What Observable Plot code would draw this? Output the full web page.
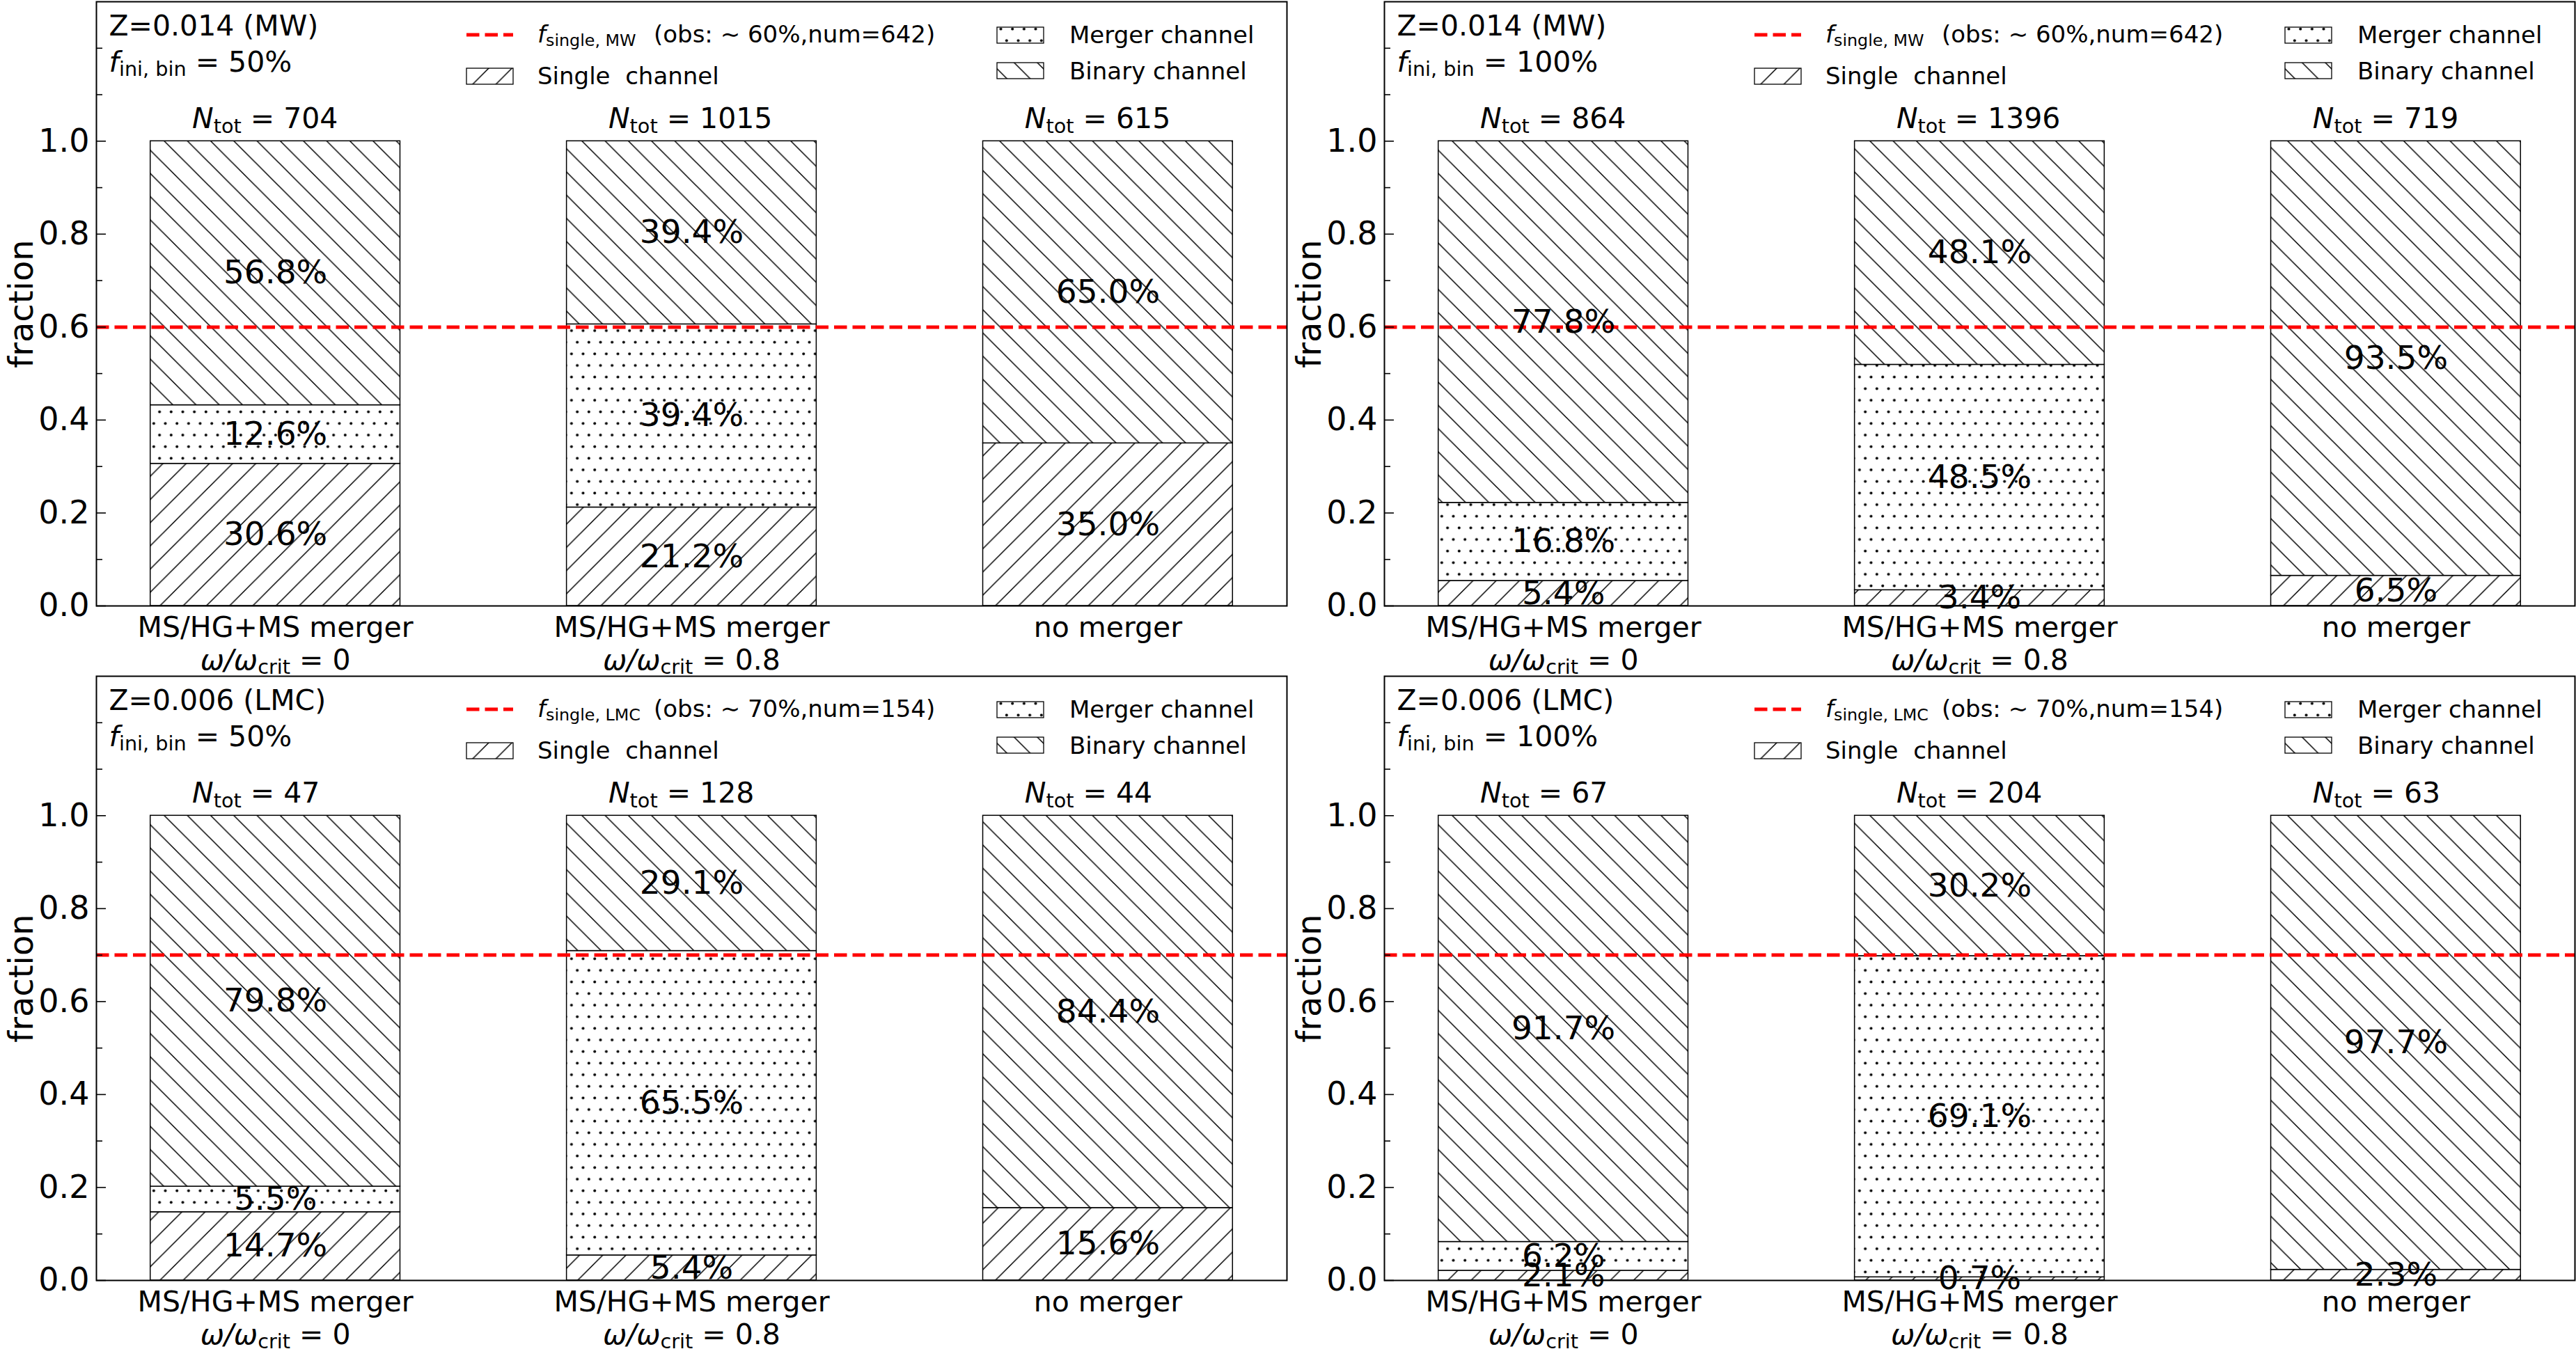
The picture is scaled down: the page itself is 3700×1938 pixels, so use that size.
<!DOCTYPE html>
<html><head><meta charset="utf-8">
<script src="https://cdn.jsdelivr.net/npm/d3@7"></script>
<script src="https://cdn.jsdelivr.net/npm/@observablehq/plot@0.6"></script>
<style>
html,body{margin:0;padding:0;background:#fff;}
#grid{display:grid;grid-template-columns:1850px 1850px;grid-template-rows:969px 969px;width:3700px;height:1938px;}
svg text{white-space:pre;}
</style></head><body>
<svg id="defs" width="0" height="0" style="position:absolute;left:0;top:0">
<defs>
<pattern id="hatch-single" patternUnits="userSpaceOnUse" width="33.333" height="33.333">
<rect width="33.333" height="33.333" fill="white"/>
<path d="M0,33.333 L33.333,0 M-2,2 L2,-2 M31.333,35.333 L35.333,31.333" stroke="black" stroke-width="1.5" fill="none"/>
</pattern>
<pattern id="hatch-binary" patternUnits="userSpaceOnUse" width="33.333" height="33.333">
<rect width="33.333" height="33.333" fill="white"/>
<path d="M0,0 L33.333,33.333 M-2,31.333 L2,35.333 M31.333,-2 L35.333,2" stroke="black" stroke-width="1.5" fill="none"/>
</pattern>
<pattern id="hatch-merger" patternUnits="userSpaceOnUse" width="16.667" height="33.333">
<rect width="16.667" height="33.333" fill="white"/>
<circle cx="4.17" cy="8.33" r="2" fill="black"/>
<circle cx="12.5" cy="25" r="2" fill="black"/>
</pattern>
</defs>
</svg>
<div id="grid"></div>
<script>
// ---------------- data ----------------
const categories = ["MS/HG+MS merger", "MS/HG+MS merger", "no merger"];
const rotationLabels = ["*ω/ω*_{crit} = 0", "*ω/ω*_{crit} = 0.8", ""];
const panelZ = ["Z=0.014 (MW)", "Z=0.014 (MW)", "Z=0.006 (LMC)", "Z=0.006 (LMC)"];
const panelFbin = ["50%", "100%", "50%", "100%"];
const obsGalaxy = ["MW", "MW", "LMC", "LMC"];
const obsFraction = [0.6, 0.6, 0.7, 0.7];
const obsPercent = ["60%", "60%", "70%", "70%"];
const obsNum = [642, 642, 154, 154];
const nTot = [[704, 1015, 615], [864, 1396, 719], [47, 128, 44], [67, 204, 63]];
const singlePct = [[30.6, 21.2, 35.0], [5.4, 3.4, 6.5], [14.7, 5.4, 15.6], [2.1, 0.7, 2.3]];
const mergerPct = [[12.6, 39.4, 0], [16.8, 48.5, 0], [5.5, 65.5, 0], [6.2, 69.1, 0]];
const binaryPct = [[56.8, 39.4, 65.0], [77.8, 48.1, 93.5], [79.8, 29.1, 84.4], [91.7, 30.2, 97.7]];
const majorTicks = [0, 0.2, 0.4, 0.6, 0.8, 1.0];
const minorTicks = [0.1, 0.3, 0.5, 0.7, 0.9, 1.1, 1.2];
const channelNames = ["Single  channel", "Merger channel", "Binary channel"];

// ---------------- helpers ----------------
const NS = "http://www.w3.org/2000/svg";
const FONT = "'DejaVu Sans', sans-serif";
const halfWidth = 0.3;

function richify(svg) {
  svg.querySelectorAll("text").forEach(t => {
    if (t.querySelector("tspan")) return;
    const s = t.textContent;
    if (!/\*|_\{/.test(s)) return;
    const fs = parseFloat(getComputedStyle(t).fontSize);
    const shift = fs * 0.16;
    t.textContent = "";
    const re = /\*([^*]+)\*|_\{([^}]*)\}|([^*_]+)/g;
    let m, shifted = false;
    while ((m = re.exec(s))) {
      const ts = document.createElementNS(NS, "tspan");
      if (m[2] !== undefined) {
        ts.textContent = m[2];
        ts.setAttribute("font-size", fs * 0.7);
        ts.setAttribute("dy", shift);
        shifted = true;
      } else {
        ts.textContent = m[1] !== undefined ? m[1] : m[3];
        if (m[1] !== undefined) ts.setAttribute("font-style", "italic");
        if (shifted) { ts.setAttribute("dy", -shift); shifted = false; }
      }
      t.appendChild(ts);
    }
  });
}

function addLegend(svg, p) {
  const g = d3.select(svg).append("g").attr("font-family", FONT).attr("font-size", 34)
    .attr("fill", "black").attr("text-anchor", "start");
  g.append("line").attr("x1", 670).attr("x2", 737).attr("y1", 50).attr("y2", 50)
    .attr("stroke", "#ff0000").attr("stroke-width", 5).attr("stroke-dasharray", "18.5,8");
  g.append("text").attr("x", 772).attr("y", 61).text(`*f*_{single, ${obsGalaxy[p]}}`);
  g.append("text").attr("x", 939).attr("y", 61).text(`(obs: ∼ ${obsPercent[p]},num=${obsNum[p]})`);
  const sw = [
    {x: 670, y: 98, fill: "url(#hatch-single)", tx: 772, ty: 121, label: channelNames[0]},
    {x: 1432, y: 39, fill: "url(#hatch-merger)", tx: 1536, ty: 62, label: channelNames[1]},
    {x: 1432, y: 90, fill: "url(#hatch-binary)", tx: 1536, ty: 114, label: channelNames[2]}
  ];
  sw.forEach(s => {
    g.append("rect").attr("x", s.x).attr("y", s.y).attr("width", 67).attr("height", 23)
      .attr("fill", s.fill).attr("stroke", "black").attr("stroke-width", 1.3);
    g.append("text").attr("x", s.tx).attr("y", s.ty).text(s.label);
  });
}

function panel(p) {
  const segs = [];
  categories.forEach((c, i) => {
    const s = singlePct[p][i] / 100, m = mergerPct[p][i] / 100, b = binaryPct[p][i] / 100;
    segs.push({i, ch: "single", y1: 0, y2: s, pct: singlePct[p][i]});
    segs.push({i, ch: "merger", y1: s, y2: s + m, pct: mergerPct[p][i]});
    segs.push({i, ch: "binary", y1: s + m, y2: s + m + b, pct: binaryPct[p][i]});
  });
  const rectOpts = (fill) => ({
    x1: d => d.i - halfWidth, x2: d => d.i + halfWidth, y1: "y1", y2: "y2",
    fill, stroke: "black", strokeWidth: 1.5
  });
  const labels = segs.filter(d => d.pct > 0);
  const axW = 1850 - 138 - 2;
  return Plot.plot({
    width: 1850, height: 969,
    marginTop: 2, marginRight: 2, marginBottom: 99, marginLeft: 138,
    x: {domain: [-0.43, 2.43], axis: null},
    y: {domain: [0, 1.3]},
    style: {fontFamily: FONT, background: "white", color: "black", overflow: "visible"},
    marks: [
      Plot.rect(segs.filter(d => d.ch === "single" && d.pct > 0), rectOpts("url(#hatch-single)")),
      Plot.rect(segs.filter(d => d.ch === "merger" && d.pct > 0), rectOpts("url(#hatch-merger)")),
      Plot.rect(segs.filter(d => d.ch === "binary" && d.pct > 0), rectOpts("url(#hatch-binary)")),
      Plot.ruleY([obsFraction[p]], {stroke: "#ff0000", strokeWidth: 5, strokeDasharray: "18.5,8"}),
      Plot.text(labels, {x: "i", y: d => (d.y1 + d.y2) / 2, text: d => d.pct.toFixed(1) + "%",
        fontSize: 47, lineAnchor: "middle", fill: "black"}),
      Plot.text(nTot[p], {x: (d, i) => i - 0.2, y: d => 1.028, text: d => `*N*_{tot} = ${d}`,
        textAnchor: "start", lineAnchor: "bottom", fontSize: 41, fill: "black"}),
      Plot.text(categories, {x: (d, i) => i, y: d => 0, text: d => d, dy: 44,
        lineAnchor: "bottom", fontSize: 41, fill: "black"}),
      Plot.text(rotationLabels, {x: (d, i) => i, y: d => 0, text: d => d, dy: 91,
        lineAnchor: "bottom", fontSize: 41, fill: "black"}),
      Plot.text([panelZ[p]], {frameAnchor: "top-left", text: d => d, dx: 18, dy: 48,
        textAnchor: "start", lineAnchor: "bottom", fontSize: 41, fill: "black"}),
      Plot.text([panelFbin[p]], {frameAnchor: "top-left", text: d => `*f*_{ini, bin} = ${d}`, dx: 18, dy: 100,
        textAnchor: "start", lineAnchor: "bottom", fontSize: 41, fill: "black"}),
      Plot.text(["fraction"], {frameAnchor: "left", text: d => d, rotate: -90, dx: -92,
        textAnchor: "middle", lineAnchor: "bottom", fontSize: 48, fill: "black"}),
      Plot.tickY(majorTicks, {y: d => d, stroke: "black", strokeWidth: 1.6, insetRight: axW - 14}),
      Plot.tickY(minorTicks, {y: d => d, stroke: "black", strokeWidth: 1.6, insetRight: axW - 9}),
      Plot.axisY(majorTicks, {tickSize: 0, tickPadding: 10, tickFormat: d => d.toFixed(1),
        fontSize: 46, label: null}),
      Plot.frame({stroke: "black", strokeWidth: 2})
    ]
  });
}

const grid = document.getElementById("grid");
for (let p = 0; p < 4; p++) {
  const svg = panel(p);
  grid.appendChild(svg);
  addLegend(svg, p);
  richify(svg);
}
</script>
</body></html>
